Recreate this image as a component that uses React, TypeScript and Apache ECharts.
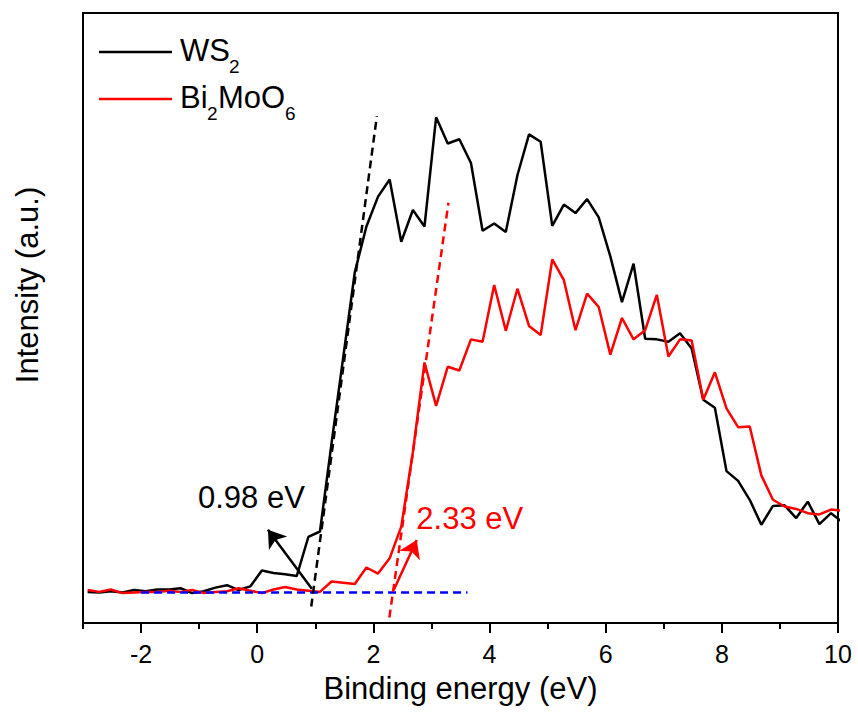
import React, { useEffect, useRef } from "react";
import * as echarts from "echarts";

const FONT = "'Liberation Sans', Arial, Helvetica, sans-serif";

// Binding energy grid (eV)
const energy = [
  -2.92, -2.72, -2.52, -2.32, -2.12, -1.92, -1.72, -1.52, -1.32, -1.12,
  -0.92, -0.72, -0.52, -0.32, -0.12, 0.08, 0.28, 0.48, 0.68, 0.88,
  1.08, 1.28, 1.48, 1.68, 1.88, 2.08, 2.28, 2.48, 2.68, 2.88,
  3.08, 3.28, 3.48, 3.68, 3.88, 4.08, 4.28, 4.48, 4.68, 4.88,
  5.08, 5.28, 5.48, 5.68, 5.88, 6.08, 6.28, 6.48, 6.68, 6.88,
  7.08, 7.28, 7.48, 7.68, 7.88, 8.08, 8.28, 8.48, 8.68, 8.88,
  9.08, 9.28, 9.48, 9.68, 9.88, 10.08,
];

const ws2 = [
  5.1, 5.0, 5.2, 5.0, 5.4, 5.2, 5.5, 5.5, 5.7, 4.9,
  5.2, 5.8, 6.2, 5.4, 6.0, 8.6, 8.2, 8.0, 7.7, 14.1,
  15.0, 29.5, 43.5, 57.5, 65.0, 69.9, 72.7, 62.5, 67.7, 65.0,
  82.9, 78.6, 79.3, 75.4, 64.3, 65.5, 64.1, 73.4, 80.1, 78.9,
  65.1, 68.6, 67.2, 69.5, 66.5, 60.1, 52.6, 58.9, 46.6, 46.5,
  46.1, 47.5, 45.0, 36.6, 35.3, 24.9, 23.3, 20.2, 16.1, 19.2,
  19.3, 17.2, 19.9, 16.2, 18.0, 16.5,
];

const bi2moo6 = [
  5.4, 5.1, 5.5, 4.9, 5.0, 5.1, 5.1, 5.3, 5.1, 5.4,
  4.9, 5.1, 5.2, 5.7, 5.3, 4.9, 5.5, 5.9, 5.5, 5.3,
  5.1, 6.8, 6.6, 6.4, 9.1, 8.1, 10.6, 15.8, 28.0, 42.7,
  35.6, 42.0, 41.4, 46.5, 46.1, 55.4, 47.9, 54.8, 48.7, 47.2,
  59.6, 56.2, 48.0, 54.0, 51.8, 44.0, 50.0, 46.5, 48.0, 53.8,
  43.7, 46.5, 46.3, 36.6, 41.1, 35.2, 32.1, 32.2, 24.2, 20.2,
  19.1, 18.7, 18.0, 17.8, 18.6, 18.4,
];

// Construction lines
const baseline = [[-2.0, 5.0], [3.62, 5.0]];
const ws2Tangent = [[0.93, 2.7], [2.06, 83.1]];
const biTangent = [[2.275, 0.9], [3.293, 68.9]];
const ws2Arrow = [[0.94, 5.6], [0.184, 15.3]];
const biArrow = [[2.35, 5.4], [2.747, 13.6]];
const ws2LabelPos = [-0.1, 20.5];
const biLabelPos = [3.66, 17.2];

const majorTicks = [-2, 0, 2, 4, 6, 8, 10];
const minorTicks = [-3, -1, 1, 3, 5, 7, 9];

export default function App() {
  const ref = useRef<HTMLDivElement>(null);
  useEffect(() => {
    if (!ref.current) return;
    const chart = echarts.init(ref.current, undefined, { renderer: "svg" });
    const pairs = (ys: number[]) => energy.map((x, i) => [x, ys[i]]);
    chart.setOption({
      animation: false,
      backgroundColor: "#fff",
      textStyle: { fontFamily: FONT, color: "#000" },
      grid: {
        left: 83,
        right: 20,
        top: 13,
        bottom: 101,
        show: true,
        borderColor: "#000",
        borderWidth: 2,
        backgroundColor: "transparent",
        outerBoundsMode: "none",
      },
      xAxis: [
        {
          type: "value",
          min: -3,
          max: 10,
          position: "bottom",
          axisLine: { show: true, onZero: false, lineStyle: { color: "#000", width: 2 } },
          axisTick: {
            show: true,
            inside: false,
            length: 10,
            customValues: majorTicks,
            lineStyle: { color: "#000", width: 2 },
          },
          axisLabel: {
            customValues: majorTicks,
            fontSize: 25,
            color: "#000",
            margin: 18,
            fontFamily: FONT,
          },
          splitLine: { show: false },
          name: "Binding energy (eV)",
          nameLocation: "middle",
          nameGap: 50,
          nameTextStyle: { fontSize: 31, color: "#000", fontFamily: FONT },
        },
        {
          type: "value",
          min: -3,
          max: 10,
          position: "bottom",
          offset: 0,
          axisLine: { show: false, onZero: false },
          axisTick: {
            show: true,
            inside: false,
            length: 6,
            customValues: minorTicks,
            lineStyle: { color: "#000", width: 2 },
          },
          axisLabel: { show: false },
          splitLine: { show: false },
        },
      ],
      yAxis: {
        type: "value",
        min: 0,
        max: 100,
        axisLine: { show: true, onZero: false, lineStyle: { color: "#000", width: 2 } },
        axisTick: { show: false },
        axisLabel: { show: false },
        splitLine: { show: false },
      },
      series: [
        {
          name: "WS2",
          type: "line",
          data: pairs(ws2),
          symbol: "none",
          clip: true,
          lineStyle: { color: "#000", width: 2.5 },
          z: 2,
          markLine: {
            silent: true,
            symbol: ["none", "arrow"],
            symbolSize: 17,
            label: { show: false },
            lineStyle: { color: "#000", width: 2.5, type: "solid" },
            data: [[{ coord: ws2Arrow[0] }, { coord: ws2Arrow[1] }]],
          },
          markPoint: {
            silent: true,
            symbol: "circle",
            symbolSize: 1,
            itemStyle: { color: "transparent" },
            label: {
              show: true,
              position: "inside",
              formatter: "0.98 eV",
              fontSize: 31,
              color: "#000",
              fontFamily: FONT,
            },
            data: [{ coord: ws2LabelPos }],
          },
        },
        {
          name: "Bi2MoO6",
          type: "line",
          data: pairs(bi2moo6),
          symbol: "none",
          clip: true,
          lineStyle: { color: "#ff0000", width: 2.5 },
          z: 3,
          markLine: {
            silent: true,
            symbol: ["none", "arrow"],
            symbolSize: 17,
            label: { show: false },
            lineStyle: { color: "#ff0000", width: 2.5, type: "solid" },
            data: [[{ coord: biArrow[0] }, { coord: biArrow[1] }]],
          },
          markPoint: {
            silent: true,
            symbol: "circle",
            symbolSize: 1,
            itemStyle: { color: "transparent" },
            label: {
              show: true,
              position: "inside",
              formatter: "2.33 eV",
              fontSize: 31,
              color: "#ff0000",
              fontFamily: FONT,
            },
            data: [{ coord: biLabelPos }],
          },
        },
        {
          name: "baseline",
          type: "line",
          data: baseline,
          symbol: "none",
          lineStyle: { color: "#0000ff", width: 2.5, type: [8, 5] },
          z: 4,
        },
        {
          name: "ws2 tangent",
          type: "line",
          data: ws2Tangent,
          symbol: "none",
          lineStyle: { color: "#000", width: 2.5, type: [8, 5] },
          z: 4,
        },
        {
          name: "bi tangent",
          type: "line",
          data: biTangent,
          symbol: "none",
          lineStyle: { color: "#ff0000", width: 2.5, type: [8, 5] },
          z: 4,
        },
      ],
      graphic: [
        {
          type: "text",
          x: 27,
          y: 285,
          rotation: Math.PI / 2,
          style: {
            text: "Intensity (a.u.)",
            fontSize: 31,
            fontFamily: FONT,
            fill: "#000",
            align: "center",
            verticalAlign: "middle",
          },
        },
        {
          type: "line",
          shape: { x1: 99, y1: 52, x2: 172, y2: 52 },
          style: { stroke: "#000", lineWidth: 2.5 },
        },
        {
          type: "text",
          x: 180,
          y: 50,
          style: { text: "WS", fontSize: 31, fontFamily: FONT, fill: "#000", verticalAlign: "middle" },
        },
        {
          type: "text",
          x: 229,
          y: 66,
          style: { text: "2", fontSize: 19, fontFamily: FONT, fill: "#000", verticalAlign: "middle" },
        },
        {
          type: "line",
          shape: { x1: 99, y1: 99, x2: 172, y2: 99 },
          style: { stroke: "#ff0000", lineWidth: 2.5 },
        },
        {
          type: "text",
          x: 180,
          y: 97,
          style: { text: "Bi", fontSize: 31, fontFamily: FONT, fill: "#000", verticalAlign: "middle" },
        },
        {
          type: "text",
          x: 207,
          y: 113,
          style: { text: "2", fontSize: 19, fontFamily: FONT, fill: "#000", verticalAlign: "middle" },
        },
        {
          type: "text",
          x: 218,
          y: 97,
          style: { text: "MoO", fontSize: 31, fontFamily: FONT, fill: "#000", verticalAlign: "middle" },
        },
        {
          type: "text",
          x: 285,
          y: 113,
          style: { text: "6", fontSize: 19, fontFamily: FONT, fill: "#000", verticalAlign: "middle" },
        },
      ],
    });
    return () => chart.dispose();
  }, []);
  return (
    <div
      ref={ref}
      style={{ position: "fixed", left: 0, top: 0, width: 858, height: 724, background: "#fff" }}
    />
  );
}
